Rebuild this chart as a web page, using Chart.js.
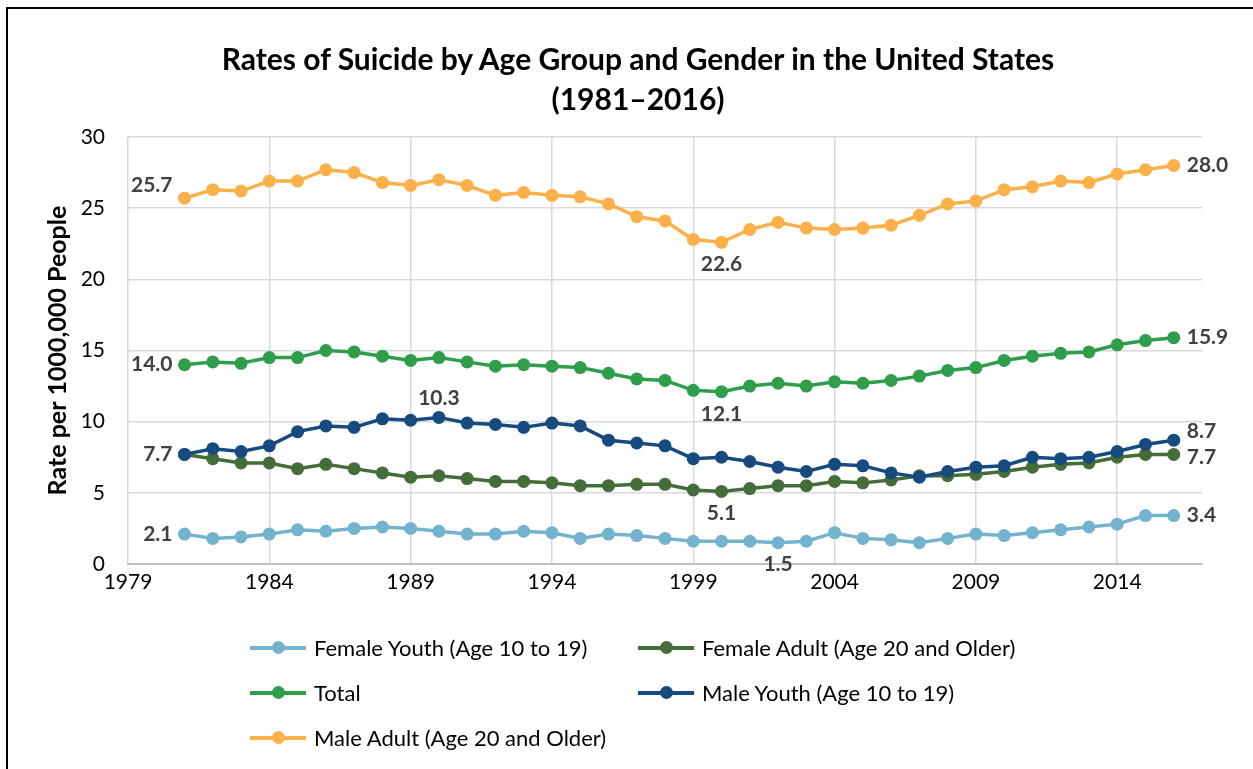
<!DOCTYPE html>
<html>
<head>
<meta charset="utf-8">
<script src="https://cdn.jsdelivr.net/npm/chart.js@4.4.1/dist/chart.umd.min.js"></script>
<style>
    html, body { margin: 0; padding: 0; background: #fff; }
    body { width: 1253px; height: 769px; overflow: hidden; position: relative; font-family: Lato, sans-serif; }
    #frame { position: absolute; left: 6px; top: 7px; width: 1400px; height: 900px; border: 2px solid #000; box-sizing: border-box; }
    #chart { position: absolute; left: 0; top: 0; }
    #title { position: absolute; left: 0; top: 38px; width: 1276px; text-align: center; font-weight: bold; font-size: 30px; line-height: 40px; color: #000; }
    .leg { position: absolute; height: 22px; font-size: 22px; line-height: 22px; color: #000; white-space: nowrap; }
    .leg .ln { position: absolute; left: 0; top: 9px; width: 56px; height: 4px; }
    .leg .dt { position: absolute; left: 22px; top: 4px; width: 13px; height: 13px; border-radius: 50%; }
    .leg .tx { position: absolute; left: 64px; top: 0; }
</style>
</head>
<body>
<div id="frame"></div>
<canvas id="chart" width="1253" height="769"></canvas>
<div id="title">Rates of Suicide by Age Group and Gender in the United States<br>(1981–2016)</div>
<div id="legend"></div>
<script>
const years = [1981, 1982, 1983, 1984, 1985, 1986, 1987, 1988, 1989, 1990, 1991, 1992,
    1993, 1994, 1995, 1996, 1997, 1998, 1999, 2000, 2001, 2002, 2003, 2004,
    2005, 2006, 2007, 2008, 2009, 2010, 2011, 2012, 2013, 2014, 2015, 2016];

const femaleYouth = [2.1, 1.8, 1.9, 2.1, 2.4, 2.3, 2.5, 2.6, 2.5, 2.3, 2.1, 2.1,
    2.3, 2.2, 1.8, 2.1, 2.0, 1.8, 1.6, 1.6, 1.6, 1.5, 1.6, 2.2,
    1.8, 1.7, 1.5, 1.8, 2.1, 2.0, 2.2, 2.4, 2.6, 2.8, 3.4, 3.4];
const femaleAdult = [7.7, 7.4, 7.1, 7.1, 6.7, 7.0, 6.7, 6.4, 6.1, 6.2, 6.0, 5.8,
    5.8, 5.7, 5.5, 5.5, 5.6, 5.6, 5.2, 5.1, 5.3, 5.5, 5.5, 5.8,
    5.7, 5.9, 6.2, 6.2, 6.3, 6.5, 6.8, 7.0, 7.1, 7.5, 7.7, 7.7];
const total = [14.0, 14.2, 14.1, 14.5, 14.5, 15.0, 14.9, 14.6, 14.3, 14.5, 14.2, 13.9,
    14.0, 13.9, 13.8, 13.4, 13.0, 12.9, 12.2, 12.1, 12.5, 12.7, 12.5, 12.8,
    12.7, 12.9, 13.2, 13.6, 13.8, 14.3, 14.6, 14.8, 14.9, 15.4, 15.7, 15.9];
const maleYouth = [7.7, 8.1, 7.9, 8.3, 9.3, 9.7, 9.6, 10.2, 10.1, 10.3, 9.9, 9.8,
    9.6, 9.9, 9.7, 8.7, 8.5, 8.3, 7.4, 7.5, 7.2, 6.8, 6.5, 7.0,
    6.9, 6.4, 6.1, 6.5, 6.8, 6.9, 7.5, 7.4, 7.5, 7.9, 8.4, 8.7];
const maleAdult = [25.7, 26.3, 26.2, 26.9, 26.9, 27.7, 27.5, 26.8, 26.6, 27.0, 26.6, 25.9,
    26.1, 25.9, 25.8, 25.3, 24.4, 24.1, 22.8, 22.6, 23.5, 24.0, 23.6, 23.5,
    23.6, 23.8, 24.5, 25.3, 25.5, 26.3, 26.5, 26.9, 26.8, 27.4, 27.7, 28.0];

const seriesNames = ['Female Youth (Age 10 to 19)', 'Female Adult (Age 20 and Older)', 'Total',
    'Male Youth (Age 10 to 19)', 'Male Adult (Age 20 and Older)'];
const seriesValues = [femaleYouth, femaleAdult, total, maleYouth, maleAdult];
const seriesColors = ['#74b3cd', '#456d3a', '#2e9e4a', '#174a7e', '#fbb04a'];

const xTicks = [1979, 1984, 1989, 1994, 1999, 2004, 2009, 2014];
const yTicks = [0, 5, 10, 15, 20, 25, 30];

// value labels: series index, year, where to put it
const callouts = [
    { s: 4, year: 1981, pos: 'left', dy: -13 },
    { s: 4, year: 2000, pos: 'below' },
    { s: 4, year: 2016, pos: 'right' },
    { s: 2, year: 1981, pos: 'left' },
    { s: 2, year: 2000, pos: 'below' },
    { s: 2, year: 2016, pos: 'right' },
    { s: 3, year: 1981, pos: 'left' },
    { s: 3, year: 1990, pos: 'above' },
    { s: 3, year: 2016, pos: 'right', dy: -9 },
    { s: 1, year: 2000, pos: 'below' },
    { s: 1, year: 2016, pos: 'right', dy: 3 },
    { s: 0, year: 1981, pos: 'left' },
    { s: 0, year: 2002, pos: 'below' },
    { s: 0, year: 2016, pos: 'right' }
];

const calloutPlugin = {
    id: 'callouts',
    afterDatasetsDraw(chart) {
        const ctx = chart.ctx;
        ctx.save();
        ctx.font = 'bold 21px Lato';
        ctx.fillStyle = '#404040';
        ctx.textBaseline = 'middle';
        callouts.forEach(c => {
            const i = years.indexOf(c.year);
            const pt = chart.getDatasetMeta(c.s).data[i];
            const txt = seriesValues[c.s][i].toFixed(1);
            let x = pt.x, y = pt.y;
            if (c.pos === 'left') { ctx.textAlign = 'right'; x -= 12; }
            else if (c.pos === 'right') { ctx.textAlign = 'left'; x += 13; }
            else if (c.pos === 'below') { ctx.textAlign = 'center'; y += 22; }
            else { ctx.textAlign = 'center'; y -= 19; }
            ctx.fillText(txt, x, y + (c.dy || 0));
        });
        ctx.restore();
    }
};

const datasets = seriesNames.map((name, k) => ({
    label: name,
    data: years.map((yr, i) => ({ x: yr, y: seriesValues[k][i] })),
    borderColor: seriesColors[k],
    backgroundColor: seriesColors[k],
    pointBackgroundColor: seriesColors[k],
    pointBorderColor: seriesColors[k],
    pointRadius: 6.5,
    pointBorderWidth: 0,
    borderWidth: 3.5,
    tension: 0,
    order: 5 - k
}));

new Chart(document.getElementById('chart').getContext('2d'), {
    type: 'line',
    data: { datasets },
    plugins: [calloutPlugin],
    options: {
        responsive: false,
        animation: false,
        layout: { padding: { left: 40, right: 51, top: 137, bottom: 165 } },
        plugins: {
            legend: { display: false },
            title: { display: false },
            tooltip: { enabled: false }
        },
        scales: {
            x: {
                type: 'linear',
                min: 1979,
                max: 2017,
                afterBuildTicks: axis => { axis.ticks = xTicks.map(v => ({ value: v })); },
                afterFit: axis => { axis.height = 40; },
                ticks: {
                    autoSkip: false,
                    maxRotation: 0,
                    padding: 6,
                    color: '#000',
                    font: { family: 'Lato', size: 21 },
                    callback: v => String(v)
                },
                grid: { color: '#d9d9d9', lineWidth: 1.5, drawTicks: false },
                border: { color: '#bfbfbf', width: 2 }
            },
            y: {
                min: 0,
                max: 30,
                afterBuildTicks: axis => { axis.ticks = yTicks.map(v => ({ value: v })); },
                afterFit: axis => { axis.width = 88; },
                ticks: {
                    padding: 23,
                    color: '#000',
                    font: { family: 'Lato', size: 21 }
                },
                grid: { color: '#d9d9d9', lineWidth: 1.5, drawTicks: false },
                border: { display: false },
                title: {
                    display: true,
                    text: 'Rate per 1000,000 People',
                    color: '#000',
                    font: { family: 'Lato', size: 25, weight: 'bold' },
                    padding: { top: 3, bottom: 3 }
                }
            }
        }
    }
});

// legend in two columns, like the original
const legendPos = [[250, 637], [638, 637], [250, 682], [638, 682], [250, 727]];
const legendEl = document.getElementById('legend');
seriesNames.forEach((name, k) => {
    const d = document.createElement('div');
    d.className = 'leg';
    d.style.left = legendPos[k][0] + 'px';
    d.style.top = legendPos[k][1] + 'px';
    d.innerHTML = `<span class="ln" style="background:${seriesColors[k]}"></span>
        <span class="dt" style="background:${seriesColors[k]}"></span>
        <span class="tx">${name}</span>`;
    legendEl.appendChild(d);
});
</script>
</body>
</html>
